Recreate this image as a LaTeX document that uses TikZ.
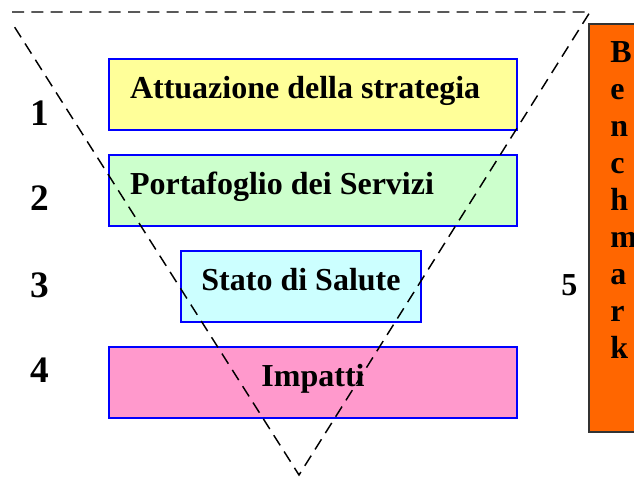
\documentclass[tikz,border=0pt]{standalone}
\usepackage{fontspec}
\setmainfont{Liberation Serif}
\usetikzlibrary{positioning}
\definecolor{boxblue}{HTML}{0000FF}
\definecolor{stratyellow}{HTML}{FFFF99}
\definecolor{servgreen}{HTML}{CCFFCC}
\definecolor{healthcyan}{HTML}{CCFFFF}
\definecolor{impactpink}{HTML}{FF99CC}
\definecolor{benchorange}{HTML}{FF6600}
\tikzset {
  level box/.style = {
    draw = boxblue,
    line width = 1.2pt,
    rectangle,
    inner ysep = 0,
    minimum height = 53.25pt,
    text height = 0.68em,
    text depth = 0.1em,
    font = \fontsize{24}{28}\selectfont\bfseries
  },
  % wide box, text starts on the left
  wide box/.style = {
    level box,
    inner xsep = 15.75pt,
    execute at begin node = {\hbox to 274.5pt\bgroup},
    execute at end node = {\hfil\egroup}
  },
  % box with centred text
  mid box/.style = {
    level box,
    inner xsep = 0,
    minimum width = #1
  },
  level num/.style = {
    anchor = base west,
    inner sep = 0,
    font = \fontsize{28}{32}\selectfont\bfseries
  },
  bench box/.style = {
    draw = black!80,
    line width = 1.2pt,
    fill = benchorange,
    rectangle,
    minimum width = 53.25pt,
    minimum height = 306pt
  },
  bench letter/.style = {
    anchor = base west,
    inner sep = 0,
    font = \fontsize{24}{28}\selectfont\bfseries
  },
  % the dashed funnel
  cone/.style = {
    draw = black,
    line width = 1.1pt,
    dash pattern = on 9pt off 5.5pt
  }
}
\begin{document}
\begin{tikzpicture}[x=0.75pt, y=-0.75pt]
    \useasboundingbox (0,0) rectangle (634,478);

    \node[wide box, fill=stratyellow] at (313, 94.5) (strategy) {Attuazione della strategia};
    \node[wide box, fill=servgreen] at (313, 190.5) (portfolio) {Portafoglio dei Servizi};
    \node[mid box=180pt, fill=healthcyan] at (301, 286.5) (health) {Stato di Salute};
    \node[mid box=306pt, fill=impactpink] at (313, 382.5) (impacts) {Impatti};

    \node[level num] at (30, 125) (n1) {1};
    \node[level num] at (30, 210) (n2) {2};
    \node[level num] at (30, 297) (n3) {3};
    \node[level num] at (30, 382) (n4) {4};
    \node[level num, font=\fontsize{24}{28}\selectfont\bfseries] at (561, 295) (n5) {5};

    \begin{scope}
      \clip (0,0) rectangle (634,478);
      \node[bench box] at (624.5, 228) (bench) {};
    \end{scope}
    \foreach \l [count=\i from 0] in {B,e,n,c,h,m,a,r,k}
      \node[bench letter] at (610, {63+36.9*\i}) (bench-\i) {\l};

    \coordinate (top-left) at (12, 12);
    \coordinate (top-right) at (590, 12);
    \coordinate (apex) at (299, 475);
    \coordinate (left-start) at (12, 23);
    \draw[cone] (top-left)
    -- (top-right)
    -- (apex)
    -- (left-start);
  \end{tikzpicture}
\end{document}
